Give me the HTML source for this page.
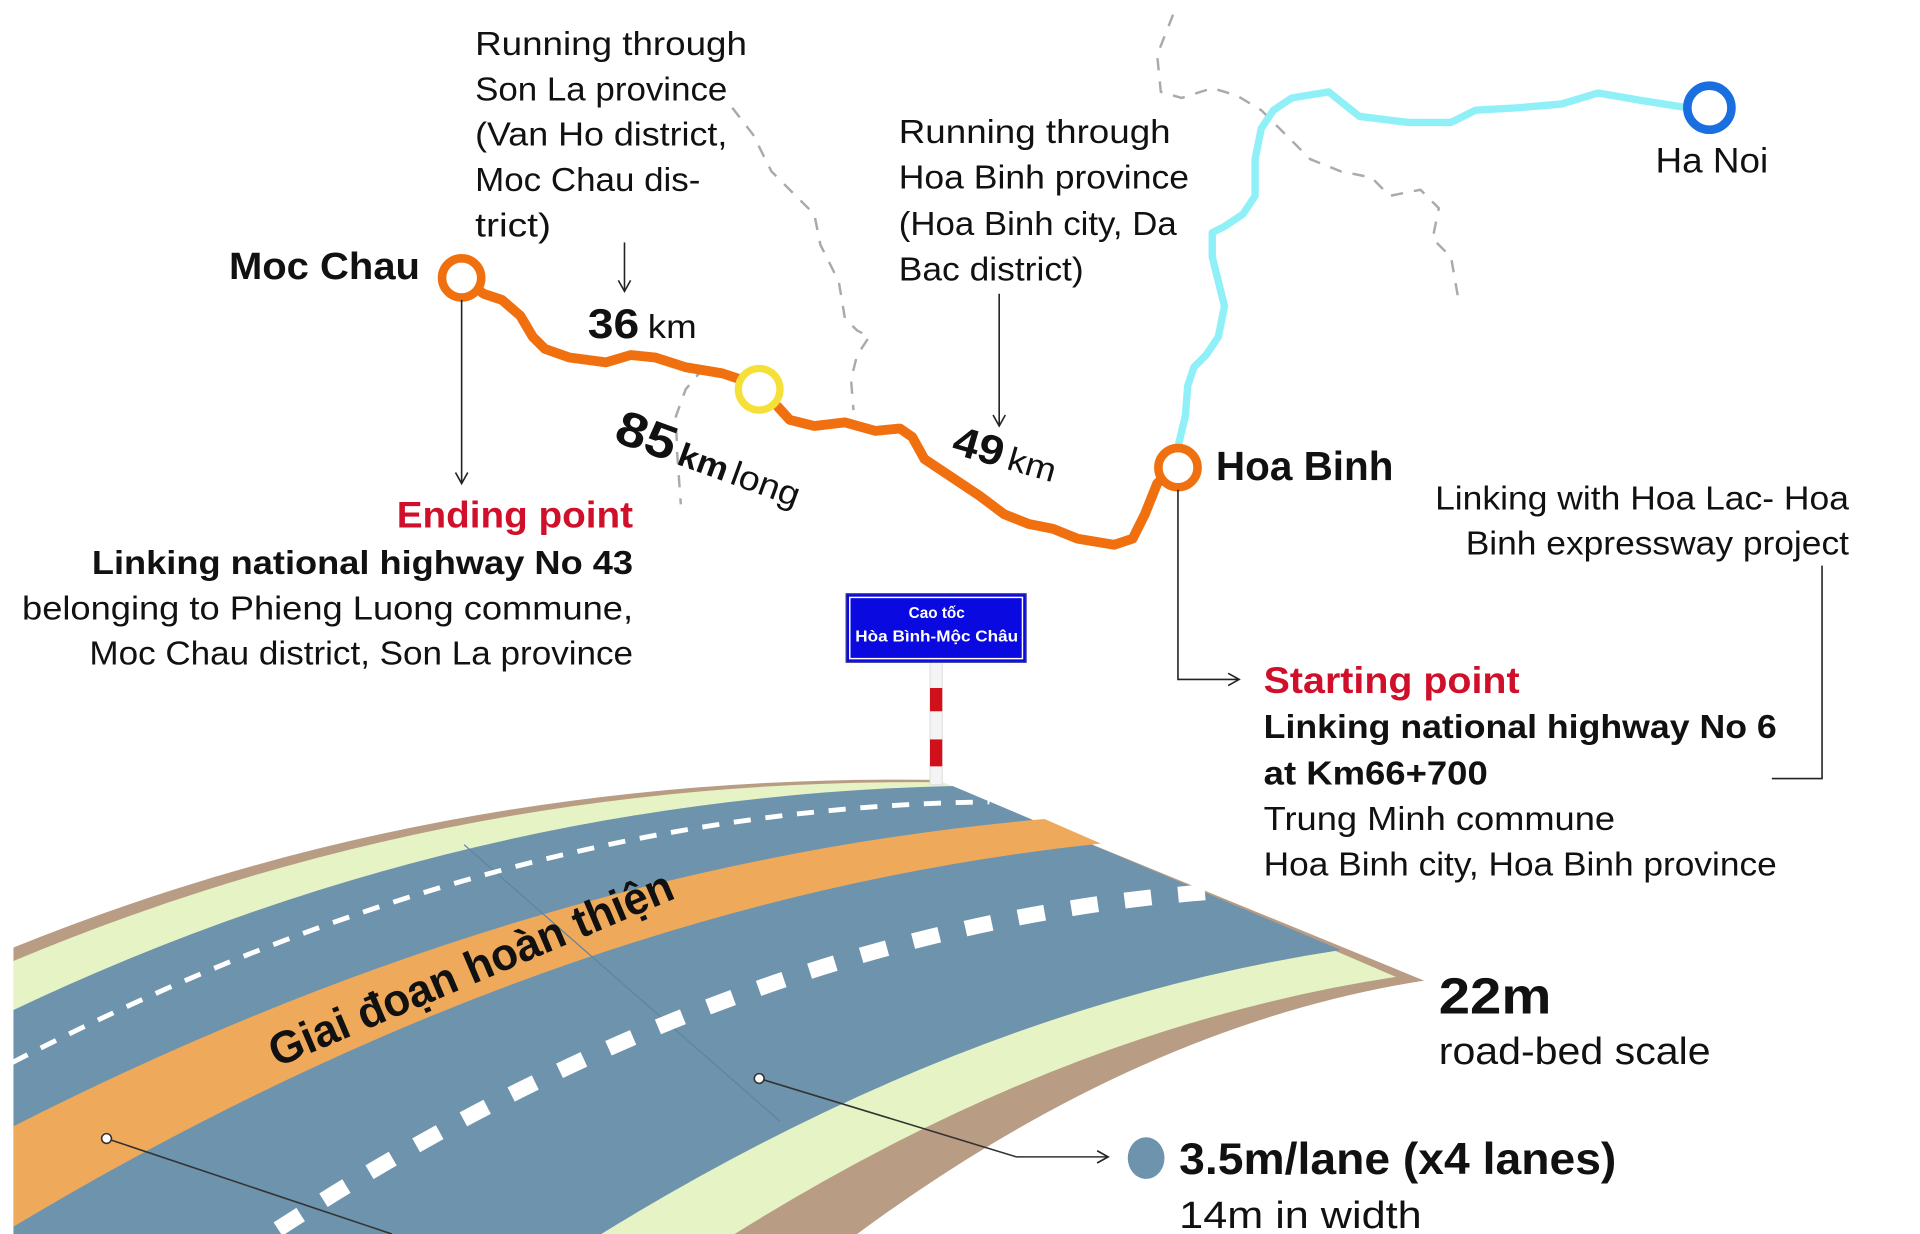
<!DOCTYPE html>
<html><head><meta charset="utf-8"><style>
html,body{margin:0;padding:0;background:#fff;}
svg{display:block;}
text{font-family:"Liberation Sans","Noto Sans CJK SC",sans-serif;fill:#111;}
.b{font-weight:bold;}
</style></head><body>
<svg width="1920" height="1234" viewBox="0 0 1568 1008" preserveAspectRatio="none" xmlns="http://www.w3.org/2000/svg">
<defs>
<marker id="ar" markerWidth="12" markerHeight="12" refX="10" refY="6" orient="auto" markerUnits="userSpaceOnUse">
<path d="M1,1 L10,6 L1,11" fill="none" stroke="#222" stroke-width="1.3"/></marker>
</defs>

<!-- grey dashed borders -->
<g fill="none" stroke="#aaa" stroke-width="2" stroke-dasharray="10 9">
<path d="M958,12 L945,45 L948,75 L965,80 L990,72 L1010,78 L1030,90 L1050,110 L1070,130 L1095,140 L1120,145 L1135,160 L1160,155 L1175,170 L1170,195 L1185,210 L1192,250"/>
<path d="M598,88 L615,110 L630,140 L650,160 L665,175 L670,200 L685,230 L690,260 L700,270 L710,275 L700,290 L695,310 L697,335"/>
<path d="M575,300 L560,318 L552,340 L553,370 L556,412"/>
</g>

<!-- cyan route -->
<path d="M962,365 L968,340 L970,315 L975,300 L985,290 L995,275 L1000,250 L995,230 L990,210 L990,190 L1000,185 L1015,175 L1025,160 L1025,130 L1030,105 L1040,90 L1055,80 L1085,75 L1110,95 L1150,100 L1185,100 L1205,90 L1240,88 L1275,85 L1305,76 L1340,82 L1378,88" fill="none" stroke="#8ff0f8" stroke-width="6" stroke-linejoin="round"/>

<!-- orange route -->
<path d="M377,227 L395,240 L410,245 L425,258 L435,275 L445,285 L465,292 L495,296 L515,290 L535,292 L560,300 L590,305 L605,310 M635,332 L645,343 L665,348 L690,345 L715,352 L735,350 L745,357 L755,375 L770,385 L800,405 L820,420 L840,428 L860,432 L880,440 L910,445 L925,440 L935,420 L945,395 L955,385" fill="none" stroke="#f07010" stroke-width="8" stroke-linejoin="round" stroke-linecap="round"/>
<circle cx="377" cy="227" r="16" fill="#fff" stroke="#f07010" stroke-width="7"/>
<circle cx="962" cy="382" r="16" fill="#fff" stroke="#f07010" stroke-width="7"/>
<circle cx="620" cy="318" r="17" fill="#fff" stroke="#f5e03a" stroke-width="6"/>
<circle cx="1396" cy="88" r="18" fill="#fff" stroke="#1a6fe0" stroke-width="7"/>

<!-- arrows -->
<g stroke="#222" stroke-width="1.3" fill="none">
<line x1="510" y1="198" x2="510" y2="238" marker-end="url(#ar)"/>
<line x1="377" y1="245" x2="377" y2="395" marker-end="url(#ar)"/>
<line x1="816" y1="240" x2="816" y2="348" marker-end="url(#ar)"/>
<polyline points="962,400 962,555 1012,555" marker-end="url(#ar)"/>
<polyline points="1488,462 1488,636 1447,636"/>
</g>

<!-- map text -->
<g font-size="27">
<text x="388" y="45" textLength="222" lengthAdjust="spacingAndGlyphs">Running through</text>
<text x="388" y="82" textLength="206" lengthAdjust="spacingAndGlyphs">Son La province</text>
<text x="388" y="119" textLength="206" lengthAdjust="spacingAndGlyphs">(Van Ho district,</text>
<text x="388" y="156" textLength="184" lengthAdjust="spacingAndGlyphs">Moc Chau dis-</text>
<text x="388" y="193" textLength="62" lengthAdjust="spacingAndGlyphs">trict)</text>
<text x="734" y="117" textLength="222" lengthAdjust="spacingAndGlyphs">Running through</text>
<text x="734" y="154" textLength="237" lengthAdjust="spacingAndGlyphs">Hoa Binh province</text>
<text x="734" y="192" textLength="227" lengthAdjust="spacingAndGlyphs">(Hoa Binh city, Da</text>
<text x="734" y="229" textLength="151" lengthAdjust="spacingAndGlyphs">Bac district)</text>
<text x="1352" y="141" font-size="29" textLength="92" lengthAdjust="spacingAndGlyphs">Ha Noi</text>
<text x="1510" y="416" text-anchor="end" textLength="338" lengthAdjust="spacingAndGlyphs">Linking with Hoa Lac- Hoa</text>
<text x="1510" y="453" text-anchor="end" textLength="313" lengthAdjust="spacingAndGlyphs">Binh expressway project</text>
<text x="517" y="506" text-anchor="end" textLength="499" lengthAdjust="spacingAndGlyphs">belonging to Phieng Luong commune,</text>
<text x="517" y="543" text-anchor="end" textLength="444" lengthAdjust="spacingAndGlyphs">Moc Chau district, Son La province</text>
<text x="1032" y="678" textLength="287" lengthAdjust="spacingAndGlyphs">Trung Minh commune</text>
<text x="1032" y="715" textLength="419" lengthAdjust="spacingAndGlyphs">Hoa Binh city, Hoa Binh province</text>
</g>
<text x="343" y="228" class="b" font-size="31" text-anchor="end" textLength="156" lengthAdjust="spacingAndGlyphs">Moc Chau</text>
<text x="480" y="276" class="b" font-size="34" textLength="42" lengthAdjust="spacingAndGlyphs">36</text>
<text x="529" y="276" font-size="27" textLength="40" lengthAdjust="spacingAndGlyphs">km</text>
<g transform="translate(500,360) rotate(20)">
<text x="0" y="0" class="b" font-size="40" textLength="50" lengthAdjust="spacingAndGlyphs">85</text>
<text x="55" y="0" class="b" font-size="27" textLength="42" lengthAdjust="spacingAndGlyphs">km</text>
<text x="101" y="0" font-size="28" textLength="58" lengthAdjust="spacingAndGlyphs">long</text>
</g>
<g transform="translate(776,370) rotate(16)">
<text x="0" y="0" class="b" font-size="34" textLength="42" lengthAdjust="spacingAndGlyphs">49</text>
<text x="47" y="0" font-size="27" textLength="40" lengthAdjust="spacingAndGlyphs">km</text>
</g>
<text x="993" y="392" class="b" font-size="33" textLength="145" lengthAdjust="spacingAndGlyphs">Hoa Binh</text>
<text x="517" y="431" class="b" font-size="30" text-anchor="end" style="fill:#d0102a" textLength="193" lengthAdjust="spacingAndGlyphs">Ending point</text>
<text x="517" y="469" class="b" font-size="27" text-anchor="end" textLength="442" lengthAdjust="spacingAndGlyphs">Linking national highway No  43</text>
<text x="1032" y="566" class="b" font-size="30" style="fill:#d0102a" textLength="209" lengthAdjust="spacingAndGlyphs">Starting point</text>
<text x="1032" y="603" class="b" font-size="27" textLength="419" lengthAdjust="spacingAndGlyphs">Linking national highway No 6</text>
<text x="1032" y="641" class="b" font-size="27" textLength="183" lengthAdjust="spacingAndGlyphs">at Km66+700</text>

<!-- road -->
<path d="M11,774 Q363,631.5 763,637 L1163,801 Q931,837.5 700,1008 L11,1008 Z" fill="#b89c84"/>
<path d="M11,785 Q369.5,634.5 770,639 L1140,798 Q870,839 600,1008 L11,1008 Z" fill="#e6f3c4"/>
<path d="M11,825 Q375.5,652 778,642 L1095,776 Q793,822 491,1008 L11,1008 Z" fill="#6e93ad"/>
<path d="M11,920 Q432,706 853,669 L899,689 Q455,736 11,1002 Z" fill="#eeaa5a"/>
<line x1="379" y1="690" x2="637" y2="916" stroke="#5e849f" stroke-width="1"/>
<path d="M10,868 Q411,660 808,655" fill="none" stroke="#fff" stroke-width="4" stroke-dasharray="14 12"/>
<path d="M227,1004 Q612,754 997,728" fill="none" stroke="#fff" stroke-width="13" stroke-dasharray="22 22"/>
<text transform="translate(226,872) rotate(-23)" font-size="37" class="b" textLength="355" lengthAdjust="spacingAndGlyphs">Giai đoạn hoàn thiện</text>

<!-- sign -->
<rect x="759.5" y="541" width="10" height="100" fill="#f4f4f4" stroke="#ddd" stroke-width="0.8"/>
<rect x="759.5" y="562" width="10" height="19" fill="#d0101a"/>
<rect x="759.5" y="604" width="10" height="22" fill="#d0101a"/>
<rect x="691" y="485" width="147" height="56" fill="#0a0ae0" stroke="#3a3aa0" stroke-width="1"/>
<rect x="694" y="488" width="141" height="50" fill="none" stroke="#fff" stroke-width="1.2"/>
<text x="765" y="505" text-anchor="middle" font-size="12.5" class="b" style="fill:#fff">Cao tốc</text>
<text x="765" y="524" text-anchor="middle" font-size="12.5" class="b" style="fill:#fff" textLength="133" lengthAdjust="spacingAndGlyphs">Hòa Bình-Mộc Châu</text>

<!-- callouts -->
<g stroke="#333" stroke-width="1.3" fill="none">
<polyline points="620,881 830,945 905,945" marker-end="url(#ar)"/>
<line x1="87" y1="930" x2="320" y2="1008"/>
</g>
<circle cx="620" cy="881" r="4" fill="#fff" stroke="#333" stroke-width="1.3"/>
<circle cx="87" cy="930" r="4" fill="#fff" stroke="#333" stroke-width="1.3"/>
<ellipse cx="936" cy="946" rx="15" ry="17" fill="#6e93ad"/>
<text x="1175" y="828" class="b" font-size="42" textLength="92" lengthAdjust="spacingAndGlyphs">22m</text>
<text x="1175" y="869" font-size="31" textLength="222" lengthAdjust="spacingAndGlyphs">road-bed scale</text>
<text x="963" y="959" class="b" font-size="36" textLength="357" lengthAdjust="spacingAndGlyphs">3.5m/lane (x4 lanes)</text>
<text x="963" y="1003" font-size="31" textLength="198" lengthAdjust="spacingAndGlyphs">14m in width</text>
</svg>
</body></html>
